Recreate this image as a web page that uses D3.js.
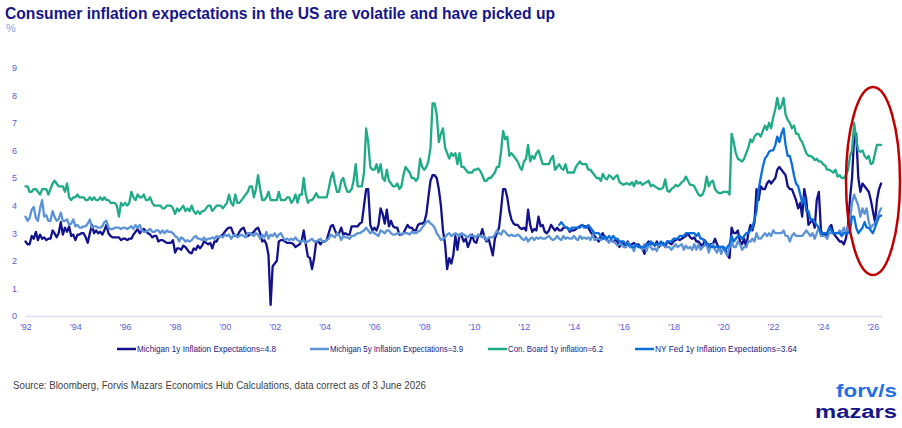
<!DOCTYPE html>
<html><head><meta charset="utf-8">
<script src="https://cdn.jsdelivr.net/npm/d3@7"></script>
<style>body{margin:0;background:#fff}svg{display:block}</style>
</head><body><svg id="c" width="902" height="428"></svg>
<script>
// Monthly data, starting Jan 1992 (NY Fed starts Jun 2013)
const mich1y = [
2.7,2.6,2.6,2.9,2.8,3.05,2.75,2.95,2.8,2.85,2.75,2.8,
2.8,3.1,3.0,2.85,3.0,3.4,2.95,3.2,3.05,3.25,2.9,2.95,
2.75,2.95,2.95,3.0,3.0,2.85,2.65,3.0,3.3,3.0,3.1,3.0,
3.05,2.95,3.1,3.3,3.0,2.9,2.85,2.85,2.85,2.85,2.75,2.8,
2.8,2.75,2.8,2.8,2.95,3.05,3.15,3.0,3.1,3.15,3.05,3.0,
2.95,2.85,2.9,2.9,2.7,2.75,2.75,2.7,2.65,2.65,2.65,2.75,
2.3,2.45,2.45,2.4,2.55,2.5,2.4,2.3,2.27,2.45,2.4,2.55,
2.45,2.55,2.7,2.65,2.6,2.65,2.45,2.7,2.7,2.85,2.9,2.95,
3.05,3.15,3.2,3.2,3.0,2.9,2.9,3.05,3.15,3.2,3.0,2.9,
2.95,3.0,3.05,3.15,3.2,3.0,2.7,2.75,2.6,2.2,0.4,1.8,
1.9,2.0,2.7,2.75,2.75,2.7,2.65,2.65,2.65,2.6,2.5,2.55,
2.6,2.75,3.1,2.6,2.15,2.1,1.7,2.1,2.7,2.7,2.6,2.7,
2.7,2.75,3.0,3.25,3.3,3.1,2.95,3.0,3.2,2.95,3.0,2.95,
2.95,3.25,3.25,3.25,3.25,3.35,3.4,4.0,4.6,4.6,3.3,3.1,
3.2,3.1,3.3,3.9,3.7,3.35,3.85,3.25,3.45,3.25,3.2,3.2,
2.95,2.95,3.0,3.15,3.3,3.2,3.2,3.1,3.1,3.3,3.35,3.35,
3.4,3.7,4.3,4.9,5.1,5.1,5.0,4.6,4.0,3.1,2.6,1.7,
2.1,1.9,2.2,2.9,2.4,2.95,2.9,2.7,2.8,2.5,2.7,2.95,
2.7,2.65,2.9,2.9,3.15,2.85,2.7,2.8,2.5,2.2,2.8,3.0,
3.2,3.9,4.6,4.6,4.3,3.8,3.5,3.35,3.3,3.3,3.2,3.15,
3.2,3.1,3.85,3.3,3.05,3.15,3.1,3.6,3.25,3.3,3.05,3.0,
3.1,3.3,3.2,3.1,3.2,3.1,3.1,3.2,3.2,3.2,3.05,3.1,
3.1,3.15,3.2,3.25,3.3,3.25,3.25,3.2,3.05,2.95,2.9,2.8,
2.7,2.9,3.0,2.8,2.75,2.7,2.75,2.7,2.75,2.7,2.5,2.65,
2.6,2.5,2.7,2.5,2.6,2.65,2.55,2.6,2.5,2.45,2.25,2.6,
2.7,2.6,2.65,2.55,2.7,2.5,2.6,2.65,2.5,2.7,2.65,2.6,
2.7,2.75,2.8,2.75,2.8,2.85,2.9,3.0,2.85,2.8,2.85,2.7,
2.7,2.6,2.5,2.75,2.65,2.4,2.6,2.6,2.8,2.6,2.45,2.5,
2.5,2.4,2.2,2.1,3.2,3.0,3.0,3.1,2.7,2.6,2.8,2.5,
3.0,3.3,3.1,3.4,4.6,4.2,4.7,4.6,4.6,4.8,4.9,4.8,
4.9,5.0,5.3,5.4,5.3,5.2,5.1,4.7,4.6,4.6,4.4,4.2,
3.9,4.1,3.6,4.6,4.2,3.3,3.4,3.5,3.2,4.2,4.5,3.1,
2.9,3.0,2.9,3.2,3.3,3.0,2.9,2.8,2.7,2.7,2.6,2.8,
3.3,4.3,5.0,6.5,6.6,5.0,4.5,4.8,4.7,4.6,4.5,4.2,
3.8,3.4,4.2,4.6,4.8];

const mich5y = [
3.6,3.45,3.55,3.85,3.95,3.55,3.45,3.9,4.2,3.6,3.65,3.45,
3.45,3.8,3.6,3.45,3.5,3.75,3.45,3.45,3.5,3.3,3.35,3.5,
3.25,3.3,3.2,3.2,3.25,3.25,3.35,3.5,3.2,3.25,3.25,3.2,
3.2,3.25,3.4,3.45,3.2,3.15,3.15,3.2,3.2,3.2,3.15,3.2,
3.2,3.15,3.2,3.25,3.15,3.3,3.2,3.3,3.1,3.05,3.05,3.1,
3.15,3.05,3.05,3.1,3.1,3.0,3.1,3.0,3.1,3.05,3.05,3.0,
2.9,2.85,2.7,2.85,2.8,2.7,2.75,2.7,2.75,2.85,2.9,2.8,
2.8,2.75,2.85,2.75,2.8,2.8,2.85,2.8,2.9,2.85,2.9,2.85,
2.95,2.9,2.95,2.8,2.9,2.95,2.85,2.9,2.95,2.9,2.85,3.0,
3.0,2.95,2.9,3.0,2.95,2.8,2.95,2.85,3.05,2.8,2.95,2.9,
3.0,2.85,2.95,3.0,2.85,2.75,2.8,2.75,2.8,2.75,2.85,2.75,
2.7,2.7,2.75,2.65,2.7,2.75,2.8,2.7,2.7,2.75,2.8,2.7,
2.7,2.75,2.8,2.95,2.9,2.85,3.0,2.95,2.75,2.9,2.85,2.85,
2.8,2.9,2.9,2.95,3.0,3.0,3.05,3.1,3.2,3.1,3.0,3.05,
3.0,2.95,2.9,3.1,3.05,3.0,3.1,3.1,3.0,2.95,2.95,3.0,
3.0,2.95,3.0,3.0,3.0,2.95,3.05,3.0,3.0,3.05,3.1,3.2,
3.3,3.4,3.45,3.35,3.3,3.2,3.0,2.9,2.75,2.8,2.85,2.95,
3.0,2.9,2.95,3.0,2.95,2.9,3.0,2.95,2.9,2.85,2.95,2.9,
2.9,2.85,2.95,2.9,2.85,2.9,2.75,2.85,2.85,2.85,2.95,3.1,
3.0,2.95,3.1,3.05,2.95,2.9,2.95,2.9,2.9,2.95,2.9,2.8,
2.75,2.85,2.7,2.8,2.85,2.75,2.85,2.8,2.85,2.8,2.8,2.85,
2.9,2.8,2.75,2.8,2.9,2.8,2.75,2.9,2.8,2.85,2.8,2.8,
2.9,2.8,2.75,2.9,2.8,2.85,2.8,2.85,2.75,2.95,2.75,2.8,
2.8,2.75,2.8,2.8,2.75,2.65,2.8,2.7,2.65,2.55,2.6,2.6,
2.5,2.5,2.65,2.5,2.5,2.35,2.6,2.5,2.5,2.4,2.6,2.35,
2.6,2.5,2.4,2.45,2.35,2.6,2.55,2.6,2.5,2.5,2.5,2.4,
2.5,2.6,2.5,2.55,2.6,2.4,2.55,2.45,2.5,2.4,2.6,2.4,
2.6,2.4,2.5,2.55,2.6,2.3,2.55,2.6,2.4,2.3,2.5,2.25,
2.5,2.3,2.2,2.5,2.7,2.5,2.5,2.7,2.6,2.4,2.5,2.5,
2.7,2.7,2.8,2.7,3.0,2.8,2.8,2.9,3.0,2.9,3.0,2.9,
3.1,3.0,3.0,3.0,3.0,3.1,2.9,2.9,2.7,2.9,3.0,2.9,
2.9,2.9,2.9,3.0,3.1,3.0,2.9,3.0,2.8,3.0,3.2,2.9,
2.9,2.9,2.8,3.0,3.0,3.0,3.0,3.0,3.1,3.0,3.2,3.0,
3.2,3.5,4.1,4.4,4.2,4.0,3.6,3.9,3.7,3.9,3.4,3.2,
3.3,3.35,3.5,3.75,3.9];

const confBoard1y = [
4.7,4.7,4.5,4.5,4.6,4.6,4.5,4.4,4.6,4.6,4.6,4.4,
4.6,4.8,4.9,4.8,4.7,4.7,4.7,4.5,4.8,4.3,4.2,4.3,
4.3,4.4,4.3,4.3,4.3,4.2,4.2,4.3,4.2,4.3,4.2,4.2,
4.3,4.2,4.3,4.2,4.2,4.1,4.1,4.1,4.0,3.6,4.1,4.0,
4.1,4.0,4.1,4.5,4.3,4.2,4.4,4.3,4.3,4.4,4.2,4.2,
4.3,4.1,4.0,4.0,4.0,4.0,3.9,3.9,4.0,4.0,4.0,3.9,
3.7,3.9,3.8,3.9,4.0,3.8,3.9,3.8,4.0,3.8,3.7,3.8,
3.7,3.8,3.8,3.9,4.0,4.0,3.8,3.9,4.0,4.0,4.0,3.9,
4.0,4.1,4.4,4.1,4.0,4.4,4.1,4.1,4.2,4.3,4.4,4.5,
4.7,4.7,4.3,4.6,5.1,4.6,4.2,4.2,4.3,4.5,4.2,4.2,
4.2,4.2,4.5,4.2,4.2,4.2,4.3,4.3,4.1,4.2,4.4,4.1,
4.4,4.4,5.0,4.4,4.1,4.2,4.2,4.3,4.45,4.3,4.3,4.3,
4.3,4.3,4.6,5.0,5.2,4.8,4.5,4.5,4.9,5.0,4.7,4.5,
4.5,4.6,4.9,5.5,4.7,4.7,4.7,5.2,6.8,6.3,5.4,5.3,
5.3,5.5,5.2,5.5,5.0,4.9,5.3,4.9,4.8,4.7,4.7,4.8,
4.6,4.7,5.1,5.4,5.3,5.2,5.0,5.0,4.9,5.0,5.7,5.4,
5.3,5.4,5.6,6.1,7.7,7.7,7.3,6.3,6.6,6.8,6.1,5.9,
5.7,5.9,5.8,5.9,5.5,5.9,5.4,5.4,5.3,5.2,5.2,5.2,
5.3,5.3,5.35,5.25,5.1,4.9,4.9,5.0,5.0,5.1,5.2,5.4,
5.4,6.0,6.7,6.4,6.5,5.8,5.9,5.8,5.7,5.6,5.4,5.3,
5.6,5.7,6.2,5.6,5.8,5.7,5.9,6.0,5.75,5.5,5.5,5.5,
5.5,5.7,5.8,5.3,5.4,5.5,5.35,5.3,5.5,5.2,5.2,5.2,
5.2,5.4,5.5,5.6,5.5,5.5,5.5,5.3,5.3,5.2,5.1,5.0,
5.0,4.9,5.15,5.0,4.95,5.1,5.05,4.95,5.05,5.1,4.85,4.8,
4.75,4.8,4.8,4.75,4.85,4.7,4.9,4.8,4.85,4.75,4.8,4.85,
4.9,4.7,4.75,4.7,4.65,4.6,4.6,4.65,4.95,4.55,4.5,4.6,
4.65,4.75,4.7,4.75,4.85,4.9,5.05,4.9,4.75,4.75,4.7,4.55,
4.4,4.35,4.4,4.6,5.05,4.7,4.85,4.9,4.6,4.5,4.45,4.45,
4.5,4.5,4.5,4.4,6.6,6.3,5.9,5.7,5.65,5.6,5.7,5.9,
6.1,6.4,6.3,6.5,6.6,6.6,6.5,6.7,6.9,6.75,7.0,6.8,
7.2,7.5,7.9,7.5,7.6,7.9,7.3,7.1,7.0,6.8,6.9,6.6,
6.6,6.4,6.3,6.1,5.9,5.8,5.8,5.75,5.65,5.7,5.6,5.6,
5.5,5.45,5.3,5.3,5.25,5.2,5.3,5.05,5.1,5.0,5.0,5.1,
5.3,5.8,6.0,7.0,6.4,6.0,5.95,6.0,5.8,5.7,5.8,5.5,
5.55,5.9,6.2,6.2,6.2];

const nyFed1y = [
3.3,3.4,3.3,3.2,3.2,3.1,3.2,
3.2,3.2,3.2,3.2,3.3,3.2,3.2,3.3,3.2,3.1,3.0,3.0,
3.0,2.9,2.8,2.9,2.8,2.9,2.8,2.9,2.8,2.8,2.7,2.7,
2.7,2.6,2.6,2.6,2.5,2.5,2.6,2.5,2.5,2.5,2.5,2.6,
2.6,2.7,2.6,2.6,2.6,2.6,2.7,2.6,2.6,2.7,2.7,2.7,
2.8,2.8,2.8,2.9,2.9,2.9,3.0,3.0,3.0,3.0,3.0,2.9,
3.0,2.8,2.8,2.7,2.6,2.6,2.5,2.5,2.5,2.5,2.5,2.5,
2.5,2.4,2.5,2.6,2.9,2.7,2.8,2.9,2.9,2.8,2.9,3.0,
3.0,3.1,3.2,3.5,3.8,4.6,5.0,5.4,5.7,5.8,5.95,6.0,
6.0,6.2,6.5,6.3,6.6,6.8,6.2,5.8,5.8,5.5,5.1,4.8,
4.7,4.4,4.1,4.3,3.8,3.8,3.5,3.5,3.4,3.3,3.2,3.0,
3.0,3.0,3.0,3.2,3.1,3.0,3.0,3.0,3.0,2.9,3.0,3.0,
3.0,3.1,3.6,3.6,3.2,3.0,3.1,3.2,3.4,3.2,3.2,3.1,
3.0,3.2,3.4,3.6,3.64];

const seriesNames = ["Michigan 1y Inflation Expectations=4.8","Michigan 5y Inflation Expectations=3.9","Con. Board 1y inflation=6.2","NY Fed 1y Inflation Expectations=3.64"];
const seriesColors = ["#12128c","#5b93d6","#1faa88","#0a6fdc"];
const seriesStart = [[1992,0],[1992,0],[1992,0],[2013,5]];
const yTicks = [0,1,2,3,4,5,6,7,8,9];
const xTickYears = d3.range(1992, 2027, 2);

const svg = d3.select("#c");
const x = d3.scaleTime().domain([new Date(1992,0,1), new Date(2026,4,14)]).range([25.5, 882]);
const y = d3.scaleLinear().domain([0,9]).range([316, 67.6]);

// Title
svg.append("text").attr("x",5).attr("y",19)
  .attr("font-family","'Liberation Sans', Arial, sans-serif").attr("font-weight","bold")
  .attr("font-size",17).attr("fill","#16168a")
  .attr("textLength",550).attr("lengthAdjust","spacingAndGlyphs")
  .text("Consumer inflation expectations in the US are volatile and have picked up");
svg.append("text").attr("x",6).attr("y",32)
  .attr("font-family","'Liberation Sans', Arial, sans-serif")
  .attr("font-size",11).attr("fill","#7aa6e6").text("%");

// Y axis
const yAx = svg.append("g").attr("transform","translate(20,0)")
  .call(d3.axisLeft(y).tickValues(yTicks).tickSize(0).tickPadding(3).tickFormat(d3.format("d")));
yAx.select(".domain").remove();
yAx.selectAll("text").attr("font-family","'Liberation Sans', Arial, sans-serif").attr("font-size",9).attr("fill","#5c5cd8");

// X axis
const xAx = svg.append("g").attr("transform","translate(0,316)")
  .call(d3.axisBottom(x).tickValues(xTickYears.map(yr=>new Date(yr,0,1))).tickSize(0).tickPadding(8)
    .tickFormat(d=>"'"+String(d.getFullYear()).slice(2)));
xAx.select(".domain").attr("stroke","#dcdcf6").attr("stroke-width",1.5);
xAx.selectAll("text").attr("font-family","'Liberation Sans', Arial, sans-serif").attr("font-size",9).attr("fill","#5c5cd8");

// Lines
const allSeries = [mich1y, mich5y, confBoard1y, nyFed1y];
const line = d3.line().x(d=>x(d.date)).y(d=>y(d.v));
allSeries.forEach((arr,i)=>{
  const [sy,sm] = seriesStart[i];
  const pts = arr.map((v,k)=>({date:new Date(sy, sm+k, 1), v}));
  svg.append("path").datum(pts).attr("d",line)
    .attr("fill","none").attr("stroke",seriesColors[i]).attr("stroke-width",2.3)
    .attr("stroke-linejoin","round").attr("stroke-linecap","round");
});

// Red ellipse highlight
svg.append("ellipse").attr("cx",873).attr("cy",181).attr("rx",27).attr("ry",94)
  .attr("fill","none").attr("stroke","#c00000").attr("stroke-width",2.5);

// Legend
const legX = [117, 310, 488, 635];
const legW = [139, 133, 95, 142];
seriesNames.forEach((nm,i)=>{
  const g = svg.append("g").attr("transform",`translate(${legX[i]},349)`);
  g.append("line").attr("x1",0).attr("x2",19).attr("y1",0).attr("y2",0)
    .attr("stroke",seriesColors[i]).attr("stroke-width",2.5);
  g.append("text").attr("x",20).attr("y",3)
    .attr("font-family","'Liberation Sans', Arial, sans-serif").attr("font-size",9)
    .attr("fill","#1c1c80").attr("textLength",legW[i]).attr("lengthAdjust","spacingAndGlyphs").text(nm);
});

// Source
svg.append("text").attr("x",13).attr("y",389)
  .attr("font-family","'Liberation Sans', Arial, sans-serif").attr("font-size",10.5)
  .attr("fill","#404040").attr("textLength",413).attr("lengthAdjust","spacingAndGlyphs")
  .text("Source: Bloomberg, Forvis Mazars Economics Hub Calculations, data correct as of 3 June 2026");

// Logo
svg.append("text").attr("x",897).attr("y",397).attr("text-anchor","end")
  .attr("font-family","'Liberation Sans', Arial, sans-serif").attr("font-weight","bold").attr("font-size",18)
  .attr("fill","#1f6fe6").attr("textLength",61).attr("lengthAdjust","spacingAndGlyphs").text("forv/s");
svg.append("text").attr("x",897).attr("y",418).attr("text-anchor","end")
  .attr("font-family","'Liberation Sans', Arial, sans-serif").attr("font-weight","bold").attr("font-size",18)
  .attr("fill","#16168a").attr("textLength",82).attr("lengthAdjust","spacingAndGlyphs").text("mazars");
</script></body></html>
